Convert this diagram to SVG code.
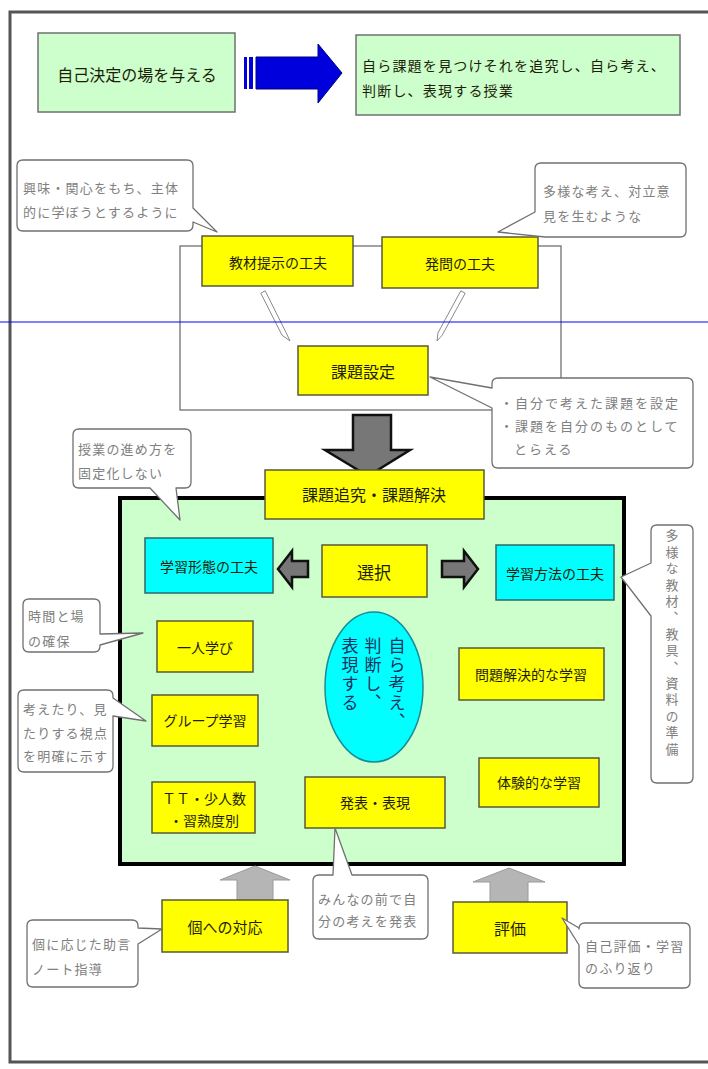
<svg xmlns="http://www.w3.org/2000/svg" width="708" height="1069" viewBox="0 0 708 1069">
<style>
text{font-family:"Noto Sans CJK JP","Noto Sans CJK SC",sans-serif;}
.g{fill:#ccffcc;stroke:#707070;stroke-width:1.5}
.y{fill:#ffff00;stroke:#5a5a3a;stroke-width:1.5}
.c{fill:#00ffff;stroke:#2a6a6a;stroke-width:1.5}
.co{fill:#fff;stroke:#707070;stroke-width:1.3;stroke-linejoin:round}
.t{font-size:14px;fill:#1e1e08;text-anchor:middle;dominant-baseline:central}
.ct{font-size:13px;fill:#808080;letter-spacing:1.2px;dominant-baseline:central}
.da{fill:#777;stroke:#111;stroke-width:2.5}
.ua{fill:#b5b5b5;stroke:#9a9a9a;stroke-width:1}
.ta{fill:#fff;stroke:#8a8a8a;stroke-width:1}
</style>
<path d="M708,12 H10 V1062 H708" fill="none" stroke="#555" stroke-width="3"/>
<rect x="180" y="246" width="381" height="164" fill="none" stroke="#707070" stroke-width="1.3"/>
<rect x="120" y="498" width="504" height="366" fill="#ccffcc" stroke="#000" stroke-width="4"/>

<g id="connectors">
<g id="blue-arrow">
<rect x="244" y="57" width="3" height="32" fill="#0000dd"/>
<rect x="249" y="57" width="4" height="32" fill="#0000dd"/>
<path d="M256,57 H318 V44 L342,73 L318,103 V89 H256 Z" fill="#0000dd" stroke="#000080" stroke-width="1"/>
</g>
<polygon class="ta" points="265.2,290.8 286.2,332.8 290,341 282,335.2 260.8,293.2"/>
<polygon class="ta" points="465.2,293.2 442.2,335.2 437,341 438,332.8 460.8,290.8"/>
<path class="da" d="M353,415 H391 V450 H410 L368,476 L325,450 H353 Z"/>
<path class="ua" d="M255,866 L290,880 H273 V900 H237 V880 H220 Z"/>
<path class="ua" d="M509,868 L545,882 H528 V902 H490 V882 H473 Z"/>
<path class="da" d="M278,569 L292,551 V561 H308 V577 H292 V587 Z"/>
<path class="da" d="M478,569 L464,551 V561 H442 V577 H464 V587 Z"/>
</g>

<g id="n-jiko"><rect class="g" x="38" y="33" width="197" height="79"/><text class="t" x="137" y="74" style="font-size:16px">自己決定の場を与える</text></g>
<g id="n-jugyo"><rect class="g" x="356" y="35" width="324" height="80"/>
<text class="t" x="362" y="65" style="text-anchor:start;letter-spacing:1.2px">自ら課題を見つけそれを追究し、自ら考え、</text>
<text class="t" x="362" y="90" style="text-anchor:start;letter-spacing:1.2px">判断し、表現する授業</text></g>

<g id="n-kyozai"><rect class="y" x="202" y="236" width="151" height="50"/><text class="t" x="278" y="262">教材提示の工夫</text></g>
<g id="n-hatsumon"><rect class="y" x="382" y="237" width="156" height="51"/><text class="t" x="460" y="263">発問の工夫</text></g>
<g id="n-kadai"><rect class="y" x="298" y="346" width="130" height="49"/><text class="t" x="363" y="371" style="font-size:16px">課題設定</text></g>
<g id="n-tsuikyu"><rect class="y" x="265" y="470" width="219" height="49"/><text class="t" x="374" y="494" style="font-size:16px">課題追究・課題解決</text></g>
<g id="n-keitai"><rect class="c" x="145" y="538" width="128" height="55"/><text class="t" x="209" y="566">学習形態の工夫</text></g>
<g id="n-sentaku"><rect class="y" x="322" y="545" width="105" height="52"/><text class="t" x="374" y="571" style="font-size:17px">選択</text></g>
<g id="n-houhou"><rect class="c" x="496" y="545" width="118" height="55"/><text class="t" x="555" y="573">学習方法の工夫</text></g>
<g id="n-hitori"><rect class="y" x="157" y="621" width="96" height="51"/><text class="t" x="205" y="647">一人学び</text></g>
<g id="n-group"><rect class="y" x="152" y="695" width="106" height="51"/><text class="t" x="205" y="720">グループ学習</text></g>
<g id="n-tt"><rect class="y" x="152" y="782" width="103" height="51"/><text class="t" x="204" y="798">ＴＴ・少人数</text><text class="t" x="204" y="820">・習熟度別</text></g>
<g id="n-ellipse"><ellipse cx="374" cy="687" rx="49" ry="75" fill="#00ffff" stroke="#1a8a9a" stroke-width="1.5"/>
<text x="397" y="637" style="writing-mode:vertical-rl;font-size:17px;letter-spacing:2px;fill:#1a3060">自ら考え、</text>
<text x="373" y="637" style="writing-mode:vertical-rl;font-size:17px;letter-spacing:2px;fill:#1a3060">判断し、</text>
<text x="350" y="637" style="writing-mode:vertical-rl;font-size:17px;letter-spacing:2px;fill:#1a3060">表現する</text></g>
<g id="n-mondai"><rect class="y" x="459" y="648" width="145" height="52"/><text class="t" x="531" y="674">問題解決的な学習</text></g>
<g id="n-happyo"><rect class="y" x="305" y="777" width="140" height="51"/><text class="t" x="375" y="802">発表・表現</text></g>
<g id="n-taiken"><rect class="y" x="479" y="758" width="120" height="49"/><text class="t" x="539" y="782">体験的な学習</text></g>
<g id="n-ko"><rect class="y" x="162" y="900" width="126" height="52"/><text class="t" x="225" y="926" style="font-size:15px">個への対応</text></g>
<g id="n-hyoka"><rect class="y" x="453" y="902" width="114" height="51"/><text class="t" x="510" y="928" style="font-size:16px">評価</text></g>

<g id="c-kyomi"><path class="co" d="M23,160 H187 Q193,160 193,166 V208 L217,232 L193,222 V225 Q193,231 187,231 H23 Q17,231 17,225 V166 Q17,160 23,160 Z"/>
<text class="ct" x="23" y="187">興味・関心をもち、主体</text><text class="ct" x="23" y="211">的に学ぼうとするように</text></g>
<g id="c-tayo"><path class="co" d="M541,163 H680 Q686,163 686,169 V231 Q686,237 680,237 H545 L498,232 L535,212 V169 Q535,163 541,163 Z"/>
<text class="ct" x="543" y="190">多様な考え、対立意</text><text class="ct" x="543" y="215">見を生むような</text></g>
<g id="c-jibun"><path class="co" d="M498,378 H687 Q693,378 693,384 V462 Q693,468 687,468 H498 Q492,468 492,462 V408 L430,377 L492,388 V384 Q492,378 498,378 Z"/>
<text class="ct" x="500" y="402" style="letter-spacing:2px">・自分で考えた課題を設定</text><text class="ct" x="500" y="425" style="letter-spacing:2px">・課題を自分のものとして</text><text class="ct" x="514" y="448" style="letter-spacing:2px">とらえる</text></g>
<g id="c-susumekata"><path class="co" d="M79,429 H185 Q191,429 191,435 V482 Q191,488 185,488 H176 L180,520 L150,488 H79 Q73,488 73,482 V435 Q73,429 79,429 Z"/>
<text class="ct" x="78" y="448">授業の進め方を</text><text class="ct" x="78" y="472">固定化しない</text></g>
<g id="c-kyozai"><path class="co" d="M657,525 H687 Q693,525 693,531 V777 Q693,783 687,783 H657 Q651,783 651,777 V616 L621,577 L651,563 V531 Q651,525 657,525 Z"/>
<text x="672" y="529" style="writing-mode:vertical-rl;font-size:13px;letter-spacing:3.4px;fill:#808080">多様な教材、教具、資料の準備</text></g>
<g id="c-jikan"><path class="co" d="M29,599 H94 Q100,599 100,605 V634 L143,633 L100,645 V646 Q100,652 94,652 H29 Q23,652 23,646 V605 Q23,599 29,599 Z"/>
<text class="ct" x="28" y="615">時間と場</text><text class="ct" x="28" y="640">の確保</text></g>
<g id="c-kangae"><path class="co" d="M24,690 H107 Q113,690 113,696 V698 L146,721 L113,716 V766 Q113,772 107,772 H24 Q18,772 18,766 V696 Q18,690 24,690 Z"/>
<text class="ct" x="23" y="708">考えたり、見</text><text class="ct" x="23" y="732">たりする視点</text><text class="ct" x="23" y="755">を明確に示す</text></g>
<g id="c-minna"><path class="co" d="M319,875 H333 L335,828 L352,875 H422 Q428,875 428,881 V933 Q428,939 422,939 H319 Q313,939 313,933 V881 Q313,875 319,875 Z"/>
<text class="ct" x="318" y="898">みんなの前で自</text><text class="ct" x="318" y="920">分の考えを発表</text></g>
<g id="c-ko"><path class="co" d="M33,920 H132 Q138,920 138,926 V928 L162,929 L138,944 V981 Q138,987 132,987 H33 Q27,987 27,981 V926 Q27,920 33,920 Z"/>
<text class="ct" x="32" y="943">個に応じた助言</text><text class="ct" x="32" y="968">ノート指導</text></g>
<g id="c-jiko"><path class="co" d="M585,923 H684 Q690,923 690,929 V982 Q690,988 684,988 H585 Q579,988 579,982 V945 L562,918 L579,928 V929 Q579,923 585,923 Z"/>
<text class="ct" x="585" y="945">自己評価・学習</text><text class="ct" x="585" y="967">のふり返り</text></g>

<line x1="0" y1="322" x2="708" y2="322" stroke="#0000ff" stroke-width="1"/>
</svg>
